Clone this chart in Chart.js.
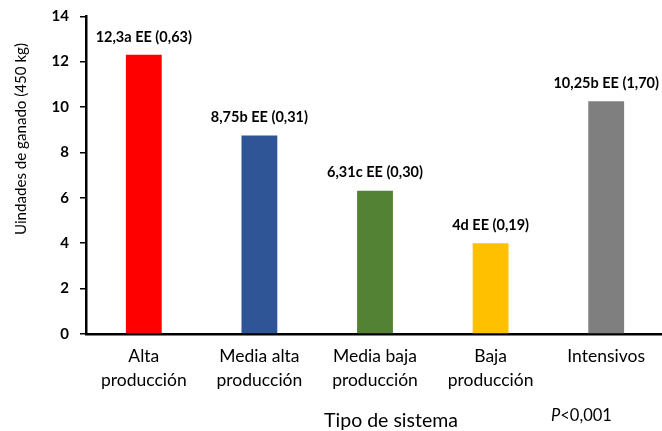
<!DOCTYPE html>
<html>
<head>
<meta charset="utf-8">
<script src="https://cdn.jsdelivr.net/npm/chart.js@4.4.1/dist/chart.umd.min.js"></script>
<style>
  html, body { margin: 0; padding: 0; background: #ffffff; overflow: hidden; }
  #wrap { width: 664px; height: 431px; }
</style>
</head>
<body>
<div id="wrap"><canvas id="c" width="664" height="431"></canvas></div>
<script>
const categories = [
  ["Alta", "producción"],
  ["Media alta", "producción"],
  ["Media baja", "producción"],
  ["Baja", "producción"],
  ["Intensivos"]
];
const values = [12.3, 8.75, 6.31, 4, 10.25];
const barLabels = ["12,3a EE (0,63)", "8,75b EE (0,31)", "6,31c EE (0,30)", "4d EE (0,19)", "10,25b EE (1,70)"];
const barColors = ["#FF0000", "#2F5597", "#548235", "#FFC000", "#7F7F7F"];
const yTitle = "Uindades de ganado (450 kg)";
const xTitle = "Tipo de sistema";
const pNote = "<0,001";

const FONT = "Lato, 'Open Sans', sans-serif";

const extras = {
  id: 'extras',
  afterDatasetsDraw(chart) {
    const ctx = chart.ctx;
    const meta = chart.getDatasetMeta(0);
    ctx.save();
    ctx.fillStyle = '#000';
    ctx.textAlign = 'center';
    ctx.textBaseline = 'middle';
    ctx.font = "bold 14.5px " + FONT;
    meta.data.forEach((bar, i) => {
      ctx.fillText(barLabels[i], bar.x, bar.y - 18);
    });
    // y title
    ctx.save();
    ctx.translate(21, 139);
    ctx.rotate(-Math.PI / 2);
    ctx.font = "16px " + FONT;
    const tw = ctx.measureText(yTitle).width;
    ctx.scale(Math.min(1, 192 / tw), 1);
    ctx.fillText(yTitle, 0, 0);
    ctx.restore();
    // x title
    ctx.font = "19.5px " + FONT;
    ctx.fillText(xTitle, 391, 421);
    // P note
    ctx.textAlign = 'left';
    ctx.font = "italic 16.5px " + FONT;
    ctx.fillText("P", 551, 416);
    const pw = ctx.measureText("P").width;
    ctx.font = "16.5px " + FONT;
    ctx.fillText(pNote, 551 + pw, 416);
    ctx.restore();
  }
};

new Chart(document.getElementById('c'), {
  type: 'bar',
  data: {
    labels: categories,
    datasets: [{
      data: values,
      backgroundColor: barColors,
      categoryPercentage: 1,
      barPercentage: 0.31
    }]
  },
  options: {
    responsive: false,
    animation: false,
    layout: { padding: { top: 0, right: 0, left: 0, bottom: 0 } },
    plugins: { legend: { display: false }, tooltip: { enabled: false } },
    scales: {
      x: {
        afterFit(scale) { scale.height = 97; },
        grid: { display: false, drawTicks: false },
        border: { display: true, color: '#000', width: 2.5 },
        ticks: {
          color: '#000',
          padding: 11,
          maxRotation: 0,
          autoSkip: false,
          font: { family: FONT, size: 17.5, lineHeight: 1.33 }
        }
      },
      y: {
        min: 0,
        max: 14,
        afterFit(scale) { scale.width = 86; },
        grid: { drawOnChartArea: false, drawTicks: true, tickLength: 6, color: '#000', lineWidth: 1.5 },
        border: { display: true, color: '#000', width: 2.5 },
        ticks: {
          stepSize: 2,
          color: '#000',
          padding: 11,
          font: { family: FONT, size: 15, weight: 'bold', lineHeight: 0.7 }
        }
      }
    }
  },
  plugins: [extras]
});
</script>
</body>
</html>
